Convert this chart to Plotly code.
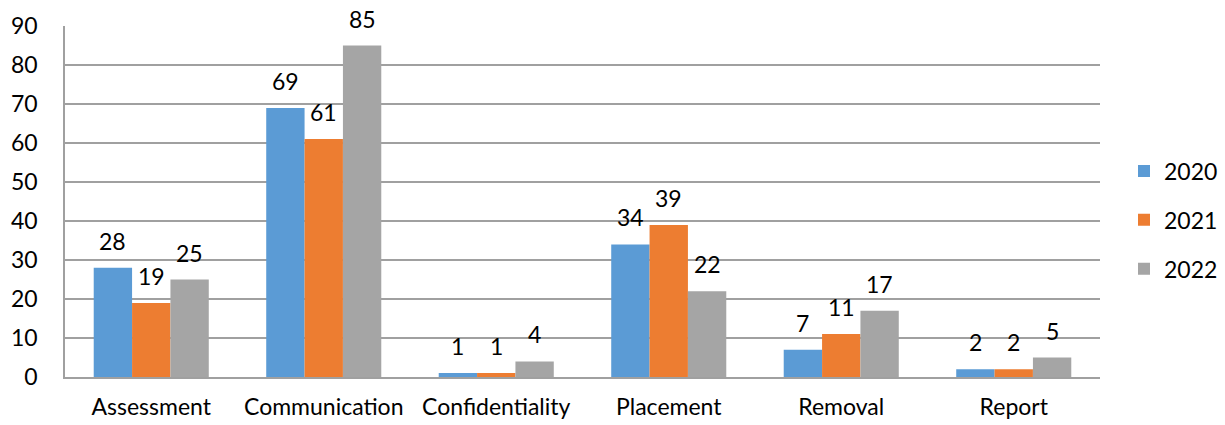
import plotly.graph_objects as go

categories = ["Assessment", "Communication", "Confidentiality", "Placement", "Removal", "Report"]
years = ["2020", "2021", "2022"]
values_2020 = [28, 69, 1, 34, 7, 2]
values_2021 = [19, 61, 1, 39, 11, 2]
values_2022 = [25, 85, 4, 22, 17, 5]
colors = ["#5B9BD5", "#ED7D31", "#A5A5A5"]

series = [values_2020, values_2021, values_2022]
FONT = "Lato"
FS = 23
W, H = 1225, 425
margin = dict(l=65, r=125, t=26, b=48)

fig = go.Figure()
for name, vals, col in zip(years, series, colors):
    fig.add_trace(go.Bar(
        name=name, x=categories, y=vals, marker_color=col,
        marker_line_width=0, legendgroup=name,
    ))

# value labels above each bar
plot_w = W - margin["l"] - margin["r"]
cat_w = plot_w / len(categories)
bar_w = cat_w * (1 - 0.333) / 3
for i, vals in enumerate(series):
    for c, v in zip(categories, vals):
        fig.add_annotation(
            x=c, y=v, text=str(v), showarrow=False,
            xshift=(i - 1) * bar_w, yshift=27, yanchor="middle",
            font=dict(family=FONT, size=FS, color="#000000"),
        )

fig.update_layout(
    width=W, height=H, margin=margin,
    barmode="group", bargap=0.333, bargroupgap=0,
    plot_bgcolor="white", paper_bgcolor="white",
    font=dict(family=FONT, size=FS, color="#000000"),
    legend=dict(
        xref="container", yref="container",
        x=1124 / W, y=1 - 220 / H, xanchor="left", yanchor="middle",
        font=dict(family=FONT, size=FS), itemwidth=30, tracegroupgap=16,
        traceorder="grouped",
    ),
    showlegend=True,
)
fig.update_xaxes(
    showline=True, linecolor="#A0A0A0", linewidth=1.5, automargin=False,
    ticks="", ticklabelstandoff=9, showgrid=False,
)
fig.update_yaxes(
    range=[0, 90], dtick=10, showgrid=True, gridcolor="#A0A0A0", gridwidth=1.5,
    showline=True, linecolor="#A0A0A0", linewidth=1.5, zeroline=False,
    ticks="", ticklabelstandoff=21, automargin=False,
)

fig.write_html("out.html")
